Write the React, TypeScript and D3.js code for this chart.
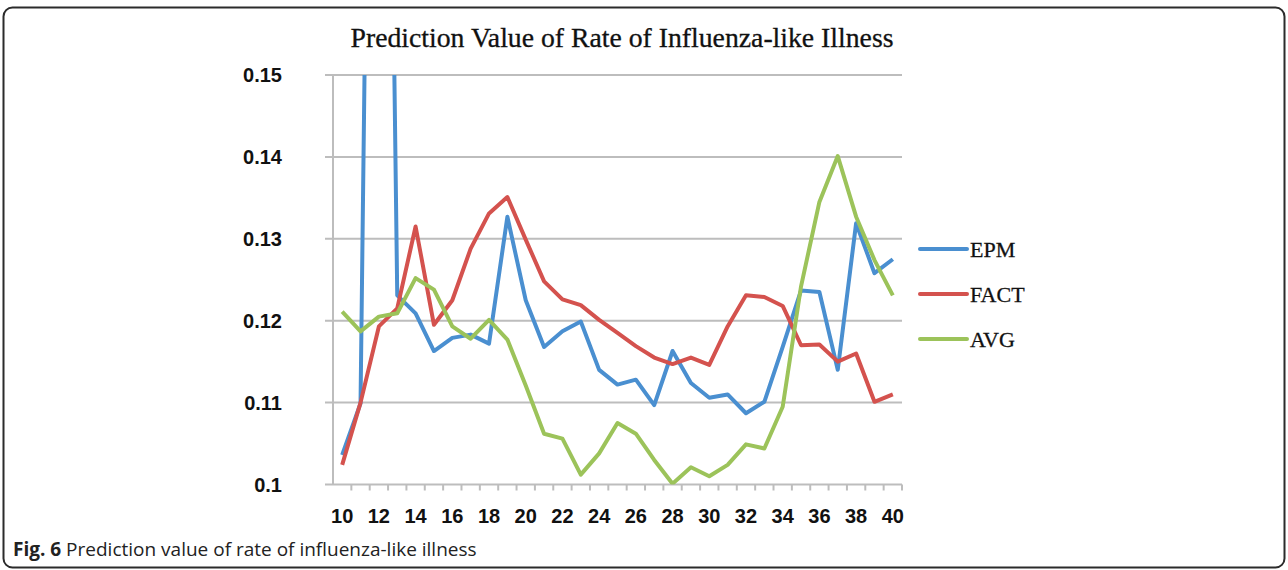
import React, { useRef, useEffect } from 'react';
import * as d3 from 'd3';

const weeks = d3.range(10, 41);
const epm = [0.1036, 0.1099, 0.295, 0.1231, 0.1209, 0.1163, 0.1179, 0.1183, 0.1172, 0.1327,
  0.1225, 0.1168, 0.1187, 0.1199, 0.114, 0.1122, 0.1128, 0.1097, 0.1163, 0.1124,
  0.1106, 0.111, 0.1087, 0.1101, 0.1168, 0.1237, 0.1235, 0.114, 0.1319, 0.1258, 0.1275];
const fact = [0.1024, 0.11, 0.1193, 0.1215, 0.1315, 0.1195, 0.1225, 0.1288, 0.1331, 0.1351,
  0.1299, 0.1248, 0.1226, 0.1219, 0.1201, 0.1185, 0.1169, 0.1155, 0.1147, 0.1155,
  0.1146, 0.1193, 0.1231, 0.1229, 0.1218, 0.117, 0.1171, 0.115, 0.116, 0.1101, 0.111];
const avg = [0.1211, 0.1187, 0.1205, 0.1209, 0.1252, 0.1238, 0.1193, 0.1178, 0.1201, 0.1177,
  0.1121, 0.1062, 0.1056, 0.1012, 0.1038, 0.1075, 0.1062, 0.103, 0.1001, 0.1021,
  0.101, 0.1024, 0.1049, 0.1044, 0.1095, 0.1242, 0.1345, 0.1401, 0.1327, 0.1274, 0.1231];
const yTicks = [0.1, 0.11, 0.12, 0.13, 0.14, 0.15];
const yTickLabels = ['0.1', '0.11', '0.12', '0.13', '0.14', '0.15'];
const xTickLabels = d3.range(10, 41, 2);

const series = [
  { name: 'EPM', values: epm, color: '#4a8fd0' },
  { name: 'FACT', values: fact, color: '#d4524e' },
  { name: 'AVG', values: avg, color: '#9cc35a' },
];

const App = () => {
  const svgRef = useRef(null);
  const width = 1288;
  const height = 570;
  const plot = { left: 333, right: 902, top: 75, bottom: 484.5 };

  useEffect(() => {
    const svg = d3.select(svgRef.current);
    svg.selectAll('*').remove();

    const x = d3.scaleBand().domain(weeks.map(String)).range([plot.left, plot.right]);
    const y = d3.scaleLinear().domain([0.1, 0.15]).range([plot.bottom, plot.top]);
    const cx = (w) => x(String(w)) + x.bandwidth() / 2;

    svg.append('rect')
      .attr('x', 3.5).attr('y', 7.5)
      .attr('width', 1281).attr('height', 560)
      .attr('rx', 9)
      .attr('fill', '#fff')
      .attr('stroke', '#2b2b2b')
      .attr('stroke-width', 2);

    svg.append('text')
      .attr('x', 622).attr('y', 47)
      .attr('text-anchor', 'middle')
      .attr('font-family', 'Liberation Serif')
      .attr('font-size', 27)
      .attr('textLength', 543)
      .attr('lengthAdjust', 'spacingAndGlyphs')
      .attr('stroke', '#111').attr('stroke-width', 0.3)
      .attr('fill', '#111')
      .text('Prediction Value of Rate of Influenza-like Illness');

    // gridlines
    svg.append('g').selectAll('line')
      .data(yTicks.slice(1))
      .join('line')
      .attr('x1', plot.left - 8).attr('x2', plot.right)
      .attr('y1', d => y(d)).attr('y2', d => y(d))
      .attr('stroke', '#bdbdbd').attr('stroke-width', 2);

    // axes
    svg.append('line')
      .attr('x1', plot.left).attr('x2', plot.left)
      .attr('y1', plot.top).attr('y2', plot.bottom)
      .attr('stroke', '#bdbdbd').attr('stroke-width', 2);
    svg.append('line')
      .attr('x1', plot.left - 8).attr('x2', plot.right)
      .attr('y1', plot.bottom).attr('y2', plot.bottom)
      .attr('stroke', '#bdbdbd').attr('stroke-width', 2);

    svg.append('g').selectAll('line')
      .data(weeks.map(w => x(String(w)) + x.bandwidth()))
      .join('line')
      .attr('x1', d => d).attr('x2', d => d)
      .attr('y1', plot.bottom).attr('y2', plot.bottom + 6)
      .attr('stroke', '#bdbdbd').attr('stroke-width', 2);

    svg.append('g').selectAll('text')
      .data(yTicks)
      .join('text')
      .attr('x', 282).attr('y', d => y(d) + 7)
      .attr('text-anchor', 'end')
      .attr('font-family', 'Liberation Sans')
      .attr('font-weight', 'bold')
      .attr('font-size', 20)
      .attr('fill', '#111')
      .text((d, i) => yTickLabels[i]);

    svg.append('g').selectAll('text')
      .data(xTickLabels)
      .join('text')
      .attr('x', d => cx(d)).attr('y', 523)
      .attr('text-anchor', 'middle')
      .attr('font-family', 'Liberation Sans')
      .attr('font-weight', 'bold')
      .attr('font-size', 20)
      .attr('fill', '#111')
      .text(d => d);

    svg.append('defs').append('clipPath').attr('id', 'plot-clip')
      .append('rect')
      .attr('x', plot.left).attr('y', plot.top)
      .attr('width', plot.right - plot.left).attr('height', plot.bottom - plot.top);

    const line = d3.line().x((d, i) => cx(weeks[i])).y(d => y(d));

    svg.append('g').attr('clip-path', 'url(#plot-clip)')
      .selectAll('path')
      .data(series)
      .join('path')
      .attr('d', d => line(d.values))
      .attr('fill', 'none')
      .attr('stroke', d => d.color)
      .attr('stroke-width', 4)
      .attr('stroke-linejoin', 'round');

    // legend
    const legend = svg.append('g').selectAll('g')
      .data(series)
      .join('g')
      .attr('transform', (d, i) => `translate(920, ${249 + i * 45})`);
    legend.append('line')
      .attr('x1', 0).attr('x2', 47)
      .attr('stroke', d => d.color)
      .attr('stroke-width', 4)
      .attr('stroke-linecap', 'round');
    legend.append('text')
      .attr('x', 50).attr('y', 8)
      .attr('font-family', 'Liberation Serif')
      .attr('font-size', 22)
      .attr('stroke', '#111').attr('stroke-width', 0.3)
      .attr('fill', '#111')
      .text(d => d.name);

    // caption
    const cap = svg.append('text')
      .attr('x', 13).attr('y', 556)
      .attr('font-family', 'Open Sans')
      .attr('font-size', 19)
      .attr('fill', '#222');
    cap.append('tspan').attr('font-weight', 'bold').text('Fig. 6');
    cap.append('tspan').text(' Prediction value of rate of influenza-like illness');
  }, []);

  return (
    <svg ref={svgRef} width={width} height={height}
      style={{ position: 'absolute', left: 0, top: 0, display: 'block' }} />
  );
};

export default App;
